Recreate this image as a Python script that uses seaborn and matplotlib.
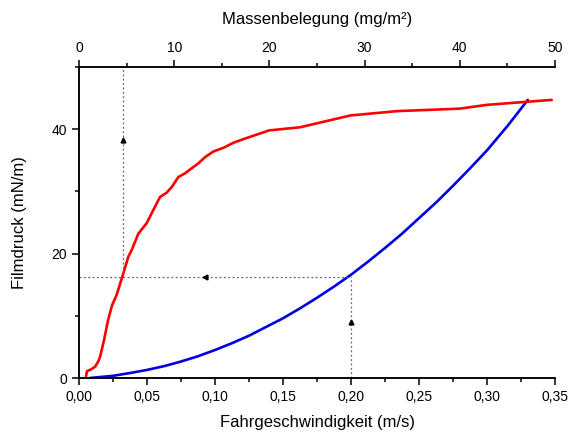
import matplotlib
matplotlib.use("Agg")
import matplotlib.pyplot as plt
import seaborn as sns
from matplotlib.ticker import MultipleLocator, FuncFormatter

# blue curve: film pressure vs. driving speed (bottom axis)
speed = [0.008, 0.025, 0.0375, 0.05, 0.0625, 0.075, 0.0875, 0.10, 0.1125,
         0.125, 0.1375, 0.15, 0.1625, 0.175, 0.1875, 0.20, 0.2125, 0.225,
         0.2375, 0.25, 0.2625, 0.275, 0.2875, 0.30, 0.315, 0.33]
pressure_speed = [0.0, 0.35, 0.8, 1.3, 1.9, 2.65, 3.5, 4.5, 5.6,
                  6.8, 8.2, 9.6, 11.2, 12.9, 14.7, 16.6, 18.7, 20.9,
                  23.2, 25.7, 28.2, 30.9, 33.7, 36.6, 40.5, 44.7]

# red curve: film pressure vs. mass coverage (top axis)
coverage = [0.74, 0.84, 1.16, 1.68, 2.0, 2.21, 2.63, 3.05, 3.47, 3.96, 4.65,
            5.18, 5.54, 6.23, 7.11, 7.80, 8.51, 9.21, 9.74, 10.43, 11.13,
            12.0, 12.53, 13.24, 14.1, 15.16, 16.2, 17.26, 19.0, 19.96, 23.2,
            28.5, 33.4, 40.0, 42.8, 47.0, 49.65]
pressure_coverage = [0.3, 1.1, 1.3, 1.8, 2.6, 3.4, 6.1, 9.3, 11.7, 13.4, 16.8,
                     19.5, 20.6, 23.2, 24.9, 27.0, 29.1, 29.8, 30.7, 32.3, 32.9,
                     33.9, 34.5, 35.5, 36.4, 37.0, 37.8, 38.4, 39.3, 39.8, 40.3,
                     42.2, 42.9, 43.3, 43.9, 44.4, 44.7]

# reading example drawn with dotted guide lines
read_speed = 0.20
read_pressure = 16.3
read_coverage = 4.65

sns.set_style("ticks", {'axes.edgecolor': 'black', 'text.color': 'black',
                        'axes.labelcolor': 'black', 'xtick.color': 'black',
                        'ytick.color': 'black'})
plt.rcParams['font.family'] = ['Liberation Sans', 'DejaVu Sans']

fig = plt.figure(figsize=(5.71, 4.32), dpi=100)
ax = fig.add_axes([0.1384, 0.125, 0.8336, 0.72])
ax_top = ax.twiny()

sns.lineplot(x=speed, y=pressure_speed, ax=ax, color='#0000e0', linewidth=1.9, sort=False)
sns.lineplot(x=coverage, y=pressure_coverage, ax=ax_top, color='#ff0000', linewidth=1.9, sort=False)

guide = dict(color='#666666', linewidth=0.9, linestyle=(0, (1.5, 2.0)))
ax.plot([read_speed, read_speed], [0, read_pressure], **guide)
ax.plot([0, read_speed], [read_pressure, read_pressure], **guide)
ax_top.plot([read_coverage, read_coverage], [read_pressure, 50], **guide)

ax.plot(read_speed, 9.0, marker='^', color='black', markersize=3.5, linestyle='none')
ax.plot(0.0926, read_pressure, marker='<', color='black', markersize=3.5, linestyle='none')
ax_top.plot(read_coverage, 38.2, marker='^', color='black', markersize=3.5, linestyle='none')

ax.set_xlim(0, 0.35)
ax.set_ylim(0, 50)
ax_top.set_xlim(0, 50)

ax.xaxis.set_major_locator(MultipleLocator(0.05))
ax.xaxis.set_minor_locator(MultipleLocator(0.025))
ax.xaxis.set_major_formatter(FuncFormatter(lambda v, p: f"{v:.2f}".replace('.', ',')))
ax.yaxis.set_major_locator(MultipleLocator(20))
ax.yaxis.set_minor_locator(MultipleLocator(10))
ax_top.xaxis.set_major_locator(MultipleLocator(10))
ax_top.xaxis.set_minor_locator(MultipleLocator(5))

for a in (ax, ax_top):
    a.spines['right'].set_visible(False)
    for s in a.spines.values():
        s.set_linewidth(1.1)
    a.tick_params(which='major', direction='out', length=5, width=1.1, labelsize=10)
    a.tick_params(which='minor', direction='out', length=3, width=1.1)

ax.set_xlabel('Fahrgeschwindigkeit (m/s)', fontsize=12, labelpad=8)
ax.set_ylabel('Filmdruck (mN/m)', fontsize=12, labelpad=18)
ax_top.set_xlabel('Massenbelegung (mg/m²)', fontsize=12, labelpad=12)

fig.savefig('out.png', dpi=100)
